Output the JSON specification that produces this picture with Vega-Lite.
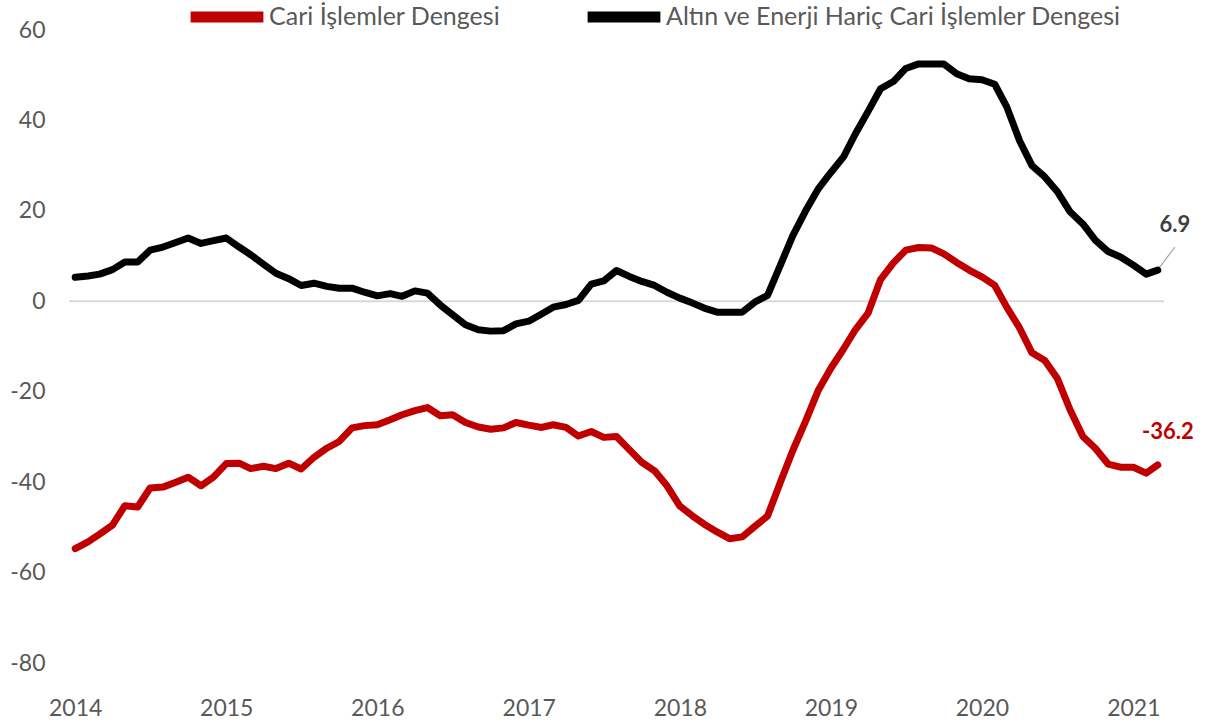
{
  "$schema": "https://vega.github.io/schema/vega-lite/v6.json",
  "width": 1095,
  "height": 633,
  "autosize": {"type": "none"},
  "padding": {"left": 69, "top": 30, "right": 41, "bottom": 65},
  "background": "white",
  "config": {
    "view": {"stroke": null},
    "font": "Lato",
    "locale": {"number": {"decimal": ".", "thousands": ",", "grouping": [3], "currency": ["$", ""], "minus": "-"}}
  },
  "datasets": {
    "series": [
      {"date": "2014-01-01", "series": "Cari İşlemler Dengesi", "value": -54.7},
      {"date": "2014-02-01", "series": "Cari İşlemler Dengesi", "value": -53.2},
      {"date": "2014-03-01", "series": "Cari İşlemler Dengesi", "value": -51.5},
      {"date": "2014-04-01", "series": "Cari İşlemler Dengesi", "value": -49.5},
      {"date": "2014-05-01", "series": "Cari İşlemler Dengesi", "value": -45.2},
      {"date": "2014-06-01", "series": "Cari İşlemler Dengesi", "value": -45.5},
      {"date": "2014-07-01", "series": "Cari İşlemler Dengesi", "value": -41.3},
      {"date": "2014-08-01", "series": "Cari İşlemler Dengesi", "value": -41.1},
      {"date": "2014-09-01", "series": "Cari İşlemler Dengesi", "value": -40.0},
      {"date": "2014-10-01", "series": "Cari İşlemler Dengesi", "value": -38.9},
      {"date": "2014-11-01", "series": "Cari İşlemler Dengesi", "value": -40.8},
      {"date": "2014-12-01", "series": "Cari İşlemler Dengesi", "value": -38.9},
      {"date": "2015-01-01", "series": "Cari İşlemler Dengesi", "value": -35.9},
      {"date": "2015-02-01", "series": "Cari İşlemler Dengesi", "value": -35.8},
      {"date": "2015-03-01", "series": "Cari İşlemler Dengesi", "value": -37.0},
      {"date": "2015-04-01", "series": "Cari İşlemler Dengesi", "value": -36.5},
      {"date": "2015-05-01", "series": "Cari İşlemler Dengesi", "value": -37.0},
      {"date": "2015-06-01", "series": "Cari İşlemler Dengesi", "value": -35.8},
      {"date": "2015-07-01", "series": "Cari İşlemler Dengesi", "value": -37.1},
      {"date": "2015-08-01", "series": "Cari İşlemler Dengesi", "value": -34.5},
      {"date": "2015-09-01", "series": "Cari İşlemler Dengesi", "value": -32.5},
      {"date": "2015-10-01", "series": "Cari İşlemler Dengesi", "value": -31.0},
      {"date": "2015-11-01", "series": "Cari İşlemler Dengesi", "value": -28.0},
      {"date": "2015-12-01", "series": "Cari İşlemler Dengesi", "value": -27.5},
      {"date": "2016-01-01", "series": "Cari İşlemler Dengesi", "value": -27.3},
      {"date": "2016-02-01", "series": "Cari İşlemler Dengesi", "value": -26.2},
      {"date": "2016-03-01", "series": "Cari İşlemler Dengesi", "value": -25.1},
      {"date": "2016-04-01", "series": "Cari İşlemler Dengesi", "value": -24.2},
      {"date": "2016-05-01", "series": "Cari İşlemler Dengesi", "value": -23.5},
      {"date": "2016-06-01", "series": "Cari İşlemler Dengesi", "value": -25.3},
      {"date": "2016-07-01", "series": "Cari İşlemler Dengesi", "value": -25.1},
      {"date": "2016-08-01", "series": "Cari İşlemler Dengesi", "value": -26.8},
      {"date": "2016-09-01", "series": "Cari İşlemler Dengesi", "value": -27.8},
      {"date": "2016-10-01", "series": "Cari İşlemler Dengesi", "value": -28.3},
      {"date": "2016-11-01", "series": "Cari İşlemler Dengesi", "value": -28.0},
      {"date": "2016-12-01", "series": "Cari İşlemler Dengesi", "value": -26.8},
      {"date": "2017-01-01", "series": "Cari İşlemler Dengesi", "value": -27.4},
      {"date": "2017-02-01", "series": "Cari İşlemler Dengesi", "value": -27.9},
      {"date": "2017-03-01", "series": "Cari İşlemler Dengesi", "value": -27.3},
      {"date": "2017-04-01", "series": "Cari İşlemler Dengesi", "value": -27.9},
      {"date": "2017-05-01", "series": "Cari İşlemler Dengesi", "value": -29.8},
      {"date": "2017-06-01", "series": "Cari İşlemler Dengesi", "value": -28.8},
      {"date": "2017-07-01", "series": "Cari İşlemler Dengesi", "value": -30.1},
      {"date": "2017-08-01", "series": "Cari İşlemler Dengesi", "value": -29.9},
      {"date": "2017-09-01", "series": "Cari İşlemler Dengesi", "value": -32.8},
      {"date": "2017-10-01", "series": "Cari İşlemler Dengesi", "value": -35.6},
      {"date": "2017-11-01", "series": "Cari İşlemler Dengesi", "value": -37.5},
      {"date": "2017-12-01", "series": "Cari İşlemler Dengesi", "value": -40.8},
      {"date": "2018-01-01", "series": "Cari İşlemler Dengesi", "value": -45.3},
      {"date": "2018-02-01", "series": "Cari İşlemler Dengesi", "value": -47.5},
      {"date": "2018-03-01", "series": "Cari İşlemler Dengesi", "value": -49.3},
      {"date": "2018-04-01", "series": "Cari İşlemler Dengesi", "value": -51.0},
      {"date": "2018-05-01", "series": "Cari İşlemler Dengesi", "value": -52.5},
      {"date": "2018-06-01", "series": "Cari İşlemler Dengesi", "value": -52.1},
      {"date": "2018-07-01", "series": "Cari İşlemler Dengesi", "value": -49.8},
      {"date": "2018-08-01", "series": "Cari İşlemler Dengesi", "value": -47.5},
      {"date": "2018-09-01", "series": "Cari İşlemler Dengesi", "value": -40.0},
      {"date": "2018-10-01", "series": "Cari İşlemler Dengesi", "value": -33.0},
      {"date": "2018-11-01", "series": "Cari İşlemler Dengesi", "value": -26.5},
      {"date": "2018-12-01", "series": "Cari İşlemler Dengesi", "value": -19.8},
      {"date": "2019-01-01", "series": "Cari İşlemler Dengesi", "value": -14.8},
      {"date": "2019-02-01", "series": "Cari İşlemler Dengesi", "value": -10.5},
      {"date": "2019-03-01", "series": "Cari İşlemler Dengesi", "value": -6.3},
      {"date": "2019-04-01", "series": "Cari İşlemler Dengesi", "value": -2.6},
      {"date": "2019-05-01", "series": "Cari İşlemler Dengesi", "value": 4.8},
      {"date": "2019-06-01", "series": "Cari İşlemler Dengesi", "value": 8.5},
      {"date": "2019-07-01", "series": "Cari İşlemler Dengesi", "value": 11.3},
      {"date": "2019-08-01", "series": "Cari İşlemler Dengesi", "value": 11.9},
      {"date": "2019-09-01", "series": "Cari İşlemler Dengesi", "value": 11.8},
      {"date": "2019-10-01", "series": "Cari İşlemler Dengesi", "value": 10.5},
      {"date": "2019-11-01", "series": "Cari İşlemler Dengesi", "value": 8.6},
      {"date": "2019-12-01", "series": "Cari İşlemler Dengesi", "value": 6.9},
      {"date": "2020-01-01", "series": "Cari İşlemler Dengesi", "value": 5.4},
      {"date": "2020-02-01", "series": "Cari İşlemler Dengesi", "value": 3.5},
      {"date": "2020-03-01", "series": "Cari İşlemler Dengesi", "value": -1.3},
      {"date": "2020-04-01", "series": "Cari İşlemler Dengesi", "value": -5.9},
      {"date": "2020-05-01", "series": "Cari İşlemler Dengesi", "value": -11.4},
      {"date": "2020-06-01", "series": "Cari İşlemler Dengesi", "value": -13.1},
      {"date": "2020-07-01", "series": "Cari İşlemler Dengesi", "value": -17.0},
      {"date": "2020-08-01", "series": "Cari İşlemler Dengesi", "value": -24.0},
      {"date": "2020-09-01", "series": "Cari İşlemler Dengesi", "value": -29.9},
      {"date": "2020-10-01", "series": "Cari İşlemler Dengesi", "value": -32.5},
      {"date": "2020-11-01", "series": "Cari İşlemler Dengesi", "value": -36.0},
      {"date": "2020-12-01", "series": "Cari İşlemler Dengesi", "value": -36.7},
      {"date": "2021-01-01", "series": "Cari İşlemler Dengesi", "value": -36.7},
      {"date": "2021-02-01", "series": "Cari İşlemler Dengesi", "value": -38.0},
      {"date": "2021-03-01", "series": "Cari İşlemler Dengesi", "value": -36.2},
      {"date": "2014-01-01", "series": "Altın ve Enerji Hariç Cari İşlemler Dengesi", "value": 5.3},
      {"date": "2014-02-01", "series": "Altın ve Enerji Hariç Cari İşlemler Dengesi", "value": 5.6},
      {"date": "2014-03-01", "series": "Altın ve Enerji Hariç Cari İşlemler Dengesi", "value": 6.0},
      {"date": "2014-04-01", "series": "Altın ve Enerji Hariç Cari İşlemler Dengesi", "value": 7.0},
      {"date": "2014-05-01", "series": "Altın ve Enerji Hariç Cari İşlemler Dengesi", "value": 8.7},
      {"date": "2014-06-01", "series": "Altın ve Enerji Hariç Cari İşlemler Dengesi", "value": 8.7},
      {"date": "2014-07-01", "series": "Altın ve Enerji Hariç Cari İşlemler Dengesi", "value": 11.3},
      {"date": "2014-08-01", "series": "Altın ve Enerji Hariç Cari İşlemler Dengesi", "value": 12.0},
      {"date": "2014-09-01", "series": "Altın ve Enerji Hariç Cari İşlemler Dengesi", "value": 13.0},
      {"date": "2014-10-01", "series": "Altın ve Enerji Hariç Cari İşlemler Dengesi", "value": 14.0},
      {"date": "2014-11-01", "series": "Altın ve Enerji Hariç Cari İşlemler Dengesi", "value": 12.8},
      {"date": "2014-12-01", "series": "Altın ve Enerji Hariç Cari İşlemler Dengesi", "value": 13.4},
      {"date": "2015-01-01", "series": "Altın ve Enerji Hariç Cari İşlemler Dengesi", "value": 14.0},
      {"date": "2015-02-01", "series": "Altın ve Enerji Hariç Cari İşlemler Dengesi", "value": 12.0},
      {"date": "2015-03-01", "series": "Altın ve Enerji Hariç Cari İşlemler Dengesi", "value": 10.3},
      {"date": "2015-04-01", "series": "Altın ve Enerji Hariç Cari İşlemler Dengesi", "value": 8.2},
      {"date": "2015-05-01", "series": "Altın ve Enerji Hariç Cari İşlemler Dengesi", "value": 6.2},
      {"date": "2015-06-01", "series": "Altın ve Enerji Hariç Cari İşlemler Dengesi", "value": 5.0},
      {"date": "2015-07-01", "series": "Altın ve Enerji Hariç Cari İşlemler Dengesi", "value": 3.5},
      {"date": "2015-08-01", "series": "Altın ve Enerji Hariç Cari İşlemler Dengesi", "value": 4.0},
      {"date": "2015-09-01", "series": "Altın ve Enerji Hariç Cari İşlemler Dengesi", "value": 3.3},
      {"date": "2015-10-01", "series": "Altın ve Enerji Hariç Cari İşlemler Dengesi", "value": 2.9},
      {"date": "2015-11-01", "series": "Altın ve Enerji Hariç Cari İşlemler Dengesi", "value": 2.9},
      {"date": "2015-12-01", "series": "Altın ve Enerji Hariç Cari İşlemler Dengesi", "value": 2.0},
      {"date": "2016-01-01", "series": "Altın ve Enerji Hariç Cari İşlemler Dengesi", "value": 1.2},
      {"date": "2016-02-01", "series": "Altın ve Enerji Hariç Cari İşlemler Dengesi", "value": 1.7},
      {"date": "2016-03-01", "series": "Altın ve Enerji Hariç Cari İşlemler Dengesi", "value": 1.1},
      {"date": "2016-04-01", "series": "Altın ve Enerji Hariç Cari İşlemler Dengesi", "value": 2.3},
      {"date": "2016-05-01", "series": "Altın ve Enerji Hariç Cari İşlemler Dengesi", "value": 1.8},
      {"date": "2016-06-01", "series": "Altın ve Enerji Hariç Cari İşlemler Dengesi", "value": -0.8},
      {"date": "2016-07-01", "series": "Altın ve Enerji Hariç Cari İşlemler Dengesi", "value": -3.0},
      {"date": "2016-08-01", "series": "Altın ve Enerji Hariç Cari İşlemler Dengesi", "value": -5.2},
      {"date": "2016-09-01", "series": "Altın ve Enerji Hariç Cari İşlemler Dengesi", "value": -6.3},
      {"date": "2016-10-01", "series": "Altın ve Enerji Hariç Cari İşlemler Dengesi", "value": -6.6},
      {"date": "2016-11-01", "series": "Altın ve Enerji Hariç Cari İşlemler Dengesi", "value": -6.5},
      {"date": "2016-12-01", "series": "Altın ve Enerji Hariç Cari İşlemler Dengesi", "value": -5.0},
      {"date": "2017-01-01", "series": "Altın ve Enerji Hariç Cari İşlemler Dengesi", "value": -4.4},
      {"date": "2017-02-01", "series": "Altın ve Enerji Hariç Cari İşlemler Dengesi", "value": -2.8},
      {"date": "2017-03-01", "series": "Altın ve Enerji Hariç Cari İşlemler Dengesi", "value": -1.3},
      {"date": "2017-04-01", "series": "Altın ve Enerji Hariç Cari İşlemler Dengesi", "value": -0.7},
      {"date": "2017-05-01", "series": "Altın ve Enerji Hariç Cari İşlemler Dengesi", "value": 0.2},
      {"date": "2017-06-01", "series": "Altın ve Enerji Hariç Cari İşlemler Dengesi", "value": 3.8},
      {"date": "2017-07-01", "series": "Altın ve Enerji Hariç Cari İşlemler Dengesi", "value": 4.5},
      {"date": "2017-08-01", "series": "Altın ve Enerji Hariç Cari İşlemler Dengesi", "value": 6.8},
      {"date": "2017-09-01", "series": "Altın ve Enerji Hariç Cari İşlemler Dengesi", "value": 5.5},
      {"date": "2017-10-01", "series": "Altın ve Enerji Hariç Cari İşlemler Dengesi", "value": 4.4},
      {"date": "2017-11-01", "series": "Altın ve Enerji Hariç Cari İşlemler Dengesi", "value": 3.5},
      {"date": "2017-12-01", "series": "Altın ve Enerji Hariç Cari İşlemler Dengesi", "value": 2.0},
      {"date": "2018-01-01", "series": "Altın ve Enerji Hariç Cari İşlemler Dengesi", "value": 0.7},
      {"date": "2018-02-01", "series": "Altın ve Enerji Hariç Cari İşlemler Dengesi", "value": -0.4},
      {"date": "2018-03-01", "series": "Altın ve Enerji Hariç Cari İşlemler Dengesi", "value": -1.5},
      {"date": "2018-04-01", "series": "Altın ve Enerji Hariç Cari İşlemler Dengesi", "value": -2.4},
      {"date": "2018-05-01", "series": "Altın ve Enerji Hariç Cari İşlemler Dengesi", "value": -2.4},
      {"date": "2018-06-01", "series": "Altın ve Enerji Hariç Cari İşlemler Dengesi", "value": -2.4},
      {"date": "2018-07-01", "series": "Altın ve Enerji Hariç Cari İşlemler Dengesi", "value": -0.2},
      {"date": "2018-08-01", "series": "Altın ve Enerji Hariç Cari İşlemler Dengesi", "value": 1.3},
      {"date": "2018-09-01", "series": "Altın ve Enerji Hariç Cari İşlemler Dengesi", "value": 8.0},
      {"date": "2018-10-01", "series": "Altın ve Enerji Hariç Cari İşlemler Dengesi", "value": 14.5},
      {"date": "2018-11-01", "series": "Altın ve Enerji Hariç Cari İşlemler Dengesi", "value": 20.0},
      {"date": "2018-12-01", "series": "Altın ve Enerji Hariç Cari İşlemler Dengesi", "value": 24.8},
      {"date": "2019-01-01", "series": "Altın ve Enerji Hariç Cari İşlemler Dengesi", "value": 28.5},
      {"date": "2019-02-01", "series": "Altın ve Enerji Hariç Cari İşlemler Dengesi", "value": 32.0},
      {"date": "2019-03-01", "series": "Altın ve Enerji Hariç Cari İşlemler Dengesi", "value": 37.0},
      {"date": "2019-04-01", "series": "Altın ve Enerji Hariç Cari İşlemler Dengesi", "value": 42.0},
      {"date": "2019-05-01", "series": "Altın ve Enerji Hariç Cari İşlemler Dengesi", "value": 47.0},
      {"date": "2019-06-01", "series": "Altın ve Enerji Hariç Cari İşlemler Dengesi", "value": 48.6},
      {"date": "2019-07-01", "series": "Altın ve Enerji Hariç Cari İşlemler Dengesi", "value": 51.5},
      {"date": "2019-08-01", "series": "Altın ve Enerji Hariç Cari İşlemler Dengesi", "value": 52.5},
      {"date": "2019-09-01", "series": "Altın ve Enerji Hariç Cari İşlemler Dengesi", "value": 52.5},
      {"date": "2019-10-01", "series": "Altın ve Enerji Hariç Cari İşlemler Dengesi", "value": 52.5},
      {"date": "2019-11-01", "series": "Altın ve Enerji Hariç Cari İşlemler Dengesi", "value": 50.3},
      {"date": "2019-12-01", "series": "Altın ve Enerji Hariç Cari İşlemler Dengesi", "value": 49.2},
      {"date": "2020-01-01", "series": "Altın ve Enerji Hariç Cari İşlemler Dengesi", "value": 49.0},
      {"date": "2020-02-01", "series": "Altın ve Enerji Hariç Cari İşlemler Dengesi", "value": 48.0},
      {"date": "2020-03-01", "series": "Altın ve Enerji Hariç Cari İşlemler Dengesi", "value": 43.0},
      {"date": "2020-04-01", "series": "Altın ve Enerji Hariç Cari İşlemler Dengesi", "value": 35.5},
      {"date": "2020-05-01", "series": "Altın ve Enerji Hariç Cari İşlemler Dengesi", "value": 30.0},
      {"date": "2020-06-01", "series": "Altın ve Enerji Hariç Cari İşlemler Dengesi", "value": 27.5},
      {"date": "2020-07-01", "series": "Altın ve Enerji Hariç Cari İşlemler Dengesi", "value": 24.3},
      {"date": "2020-08-01", "series": "Altın ve Enerji Hariç Cari İşlemler Dengesi", "value": 19.8},
      {"date": "2020-09-01", "series": "Altın ve Enerji Hariç Cari İşlemler Dengesi", "value": 17.1},
      {"date": "2020-10-01", "series": "Altın ve Enerji Hariç Cari İşlemler Dengesi", "value": 13.5},
      {"date": "2020-11-01", "series": "Altın ve Enerji Hariç Cari İşlemler Dengesi", "value": 11.0},
      {"date": "2020-12-01", "series": "Altın ve Enerji Hariç Cari İşlemler Dengesi", "value": 9.8},
      {"date": "2021-01-01", "series": "Altın ve Enerji Hariç Cari İşlemler Dengesi", "value": 8.0},
      {"date": "2021-02-01", "series": "Altın ve Enerji Hariç Cari İşlemler Dengesi", "value": 6.0},
      {"date": "2021-03-01", "series": "Altın ve Enerji Hariç Cari İşlemler Dengesi", "value": 6.9}
    ]
  },
  "layer": [
    {
      "data": {"values": [{"zero": 0}]},
      "mark": {"type": "rule", "color": "#D9D9D9", "strokeWidth": 2},
      "encoding": {"y": {"field": "zero", "type": "quantitative"}}
    },
    {
      "data": {"name": "series"},
      "mark": {"type": "line", "strokeWidth": 7, "strokeJoin": "round", "strokeCap": "round"},
      "encoding": {
        "x": {
          "field": "date",
          "type": "temporal",
          "scale": {
            "type": "utc",
            "domain": [
              {"year": 2013, "month": 12, "date": 17, "utc": true},
              {"year": 2021, "month": 3, "date": 16, "utc": true}
            ]
          },
          "axis": {
            "title": null,
            "domain": false,
            "ticks": false,
            "tickSize": 0,
            "grid": false,
            "format": "%Y",
            "tickCount": "year",
            "labelFont": "Lato",
            "labelFontSize": 23,
            "labelColor": "#595959",
            "labelPadding": 34,
            "labelFlush": false,
            "labelOverlap": false
          }
        },
        "y": {
          "field": "value",
          "type": "quantitative",
          "scale": {"domain": [-80, 60], "nice": false, "zero": false},
          "axis": {
            "title": null,
            "domain": false,
            "ticks": false,
            "tickSize": 0,
            "grid": false,
            "values": [-80, -60, -40, -20, 0, 20, 40, 60],
            "labelFont": "Lato",
            "labelFontSize": 23,
            "labelColor": "#595959",
            "labelPadding": 24
          }
        },
        "color": {
          "field": "series",
          "type": "nominal",
          "scale": {
            "domain": ["Cari İşlemler Dengesi", "Altın ve Enerji Hariç Cari İşlemler Dengesi"],
            "range": ["#C00000", "#000000"]
          },
          "legend": {
            "title": null,
            "orient": "none",
            "legendX": 116,
            "legendY": -55,
            "direction": "horizontal",
            "columns": 2,
            "symbolType": "stroke",
            "symbolSize": 5300,
            "symbolStrokeWidth": 11,
            "labelFont": "Lato",
            "labelFontSize": 25,
            "labelColor": "#595959",
            "labelOffset": 0,
            "columnPadding": 64,
            "labelLimit": 700
          }
        }
      }
    },
    {
      "data": {"name": "series"},
      "transform": [
        {"filter": {"field": "series", "equal": "Altın ve Enerji Hariç Cari İşlemler Dengesi"}},
        {"filter": {"field": "value", "equal": 6.9}}
      ],
      "mark": {"type": "rule", "color": "#A6A6A6", "strokeWidth": 1.2, "xOffset": 2, "yOffset": -3, "x2Offset": 17, "y2Offset": -23},
      "encoding": {
        "x": {"field": "date", "type": "temporal"},
        "y": {"field": "value", "type": "quantitative"},
        "x2": {"field": "date"},
        "y2": {"field": "value"}
      }
    },
    {
      "data": {"name": "series"},
      "transform": [
        {"filter": {"field": "series", "equal": "Altın ve Enerji Hariç Cari İşlemler Dengesi"}},
        {"filter": {"field": "value", "equal": 6.9}}
      ],
      "mark": {"type": "text", "dx": 17, "dy": -45, "fontSize": 22, "fontWeight": "bold", "color": "#404040", "font": "Lato", "align": "center", "baseline": "middle"},
      "encoding": {
        "x": {"field": "date", "type": "temporal"},
        "y": {"field": "value", "type": "quantitative"},
        "text": {"field": "value", "type": "quantitative", "format": ".1f"}
      }
    },
    {
      "data": {"name": "series"},
      "transform": [
        {"filter": {"field": "series", "equal": "Cari İşlemler Dengesi"}},
        {"filter": {"field": "value", "equal": -36.2}}
      ],
      "mark": {"type": "text", "dx": 10, "dy": -33, "fontSize": 22, "fontWeight": "bold", "color": "#C00000", "font": "Lato", "align": "center", "baseline": "middle"},
      "encoding": {
        "x": {"field": "date", "type": "temporal"},
        "y": {"field": "value", "type": "quantitative"},
        "text": {"field": "value", "type": "quantitative", "format": ".1f"}
      }
    }
  ]
}
